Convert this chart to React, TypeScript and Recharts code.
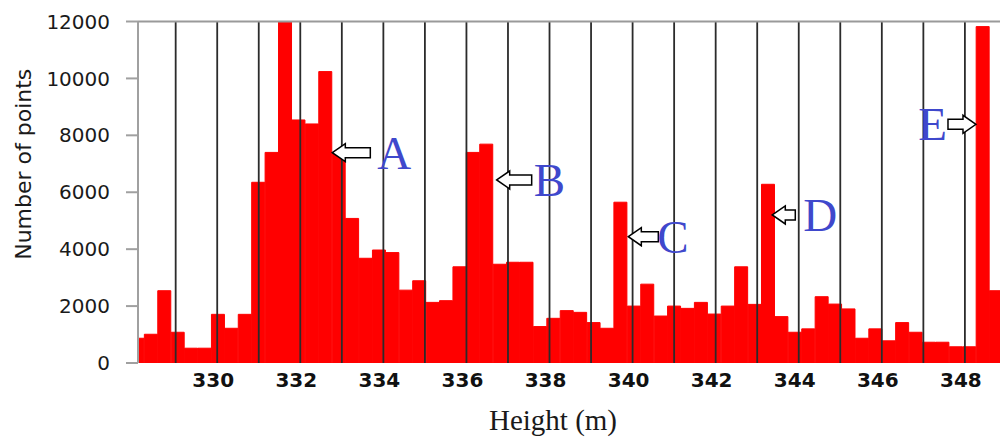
import React from 'react';
import { ComposedChart, Bar, XAxis, YAxis, ReferenceLine, ReferenceDot, Label } from 'recharts';

// Histogram bin centres (height, m)
const binCenters = [
  328.084, 328.407, 328.730, 329.053, 329.376, 329.699, 330.022, 330.345, 330.668, 330.991,
  331.314, 331.637, 331.960, 332.283, 332.606, 332.929, 333.252, 333.575, 333.898, 334.221,
  334.544, 334.867, 335.190, 335.513, 335.836, 336.158, 336.481, 336.804, 337.127, 337.450,
  337.773, 338.096, 338.419, 338.742, 339.065, 339.388, 339.711, 340.034, 340.357, 340.680,
  341.003, 341.326, 341.649, 341.972, 342.295, 342.618, 342.941, 343.264, 343.587, 343.910,
  344.233, 344.556, 344.879, 345.202, 345.525, 345.848, 346.171, 346.494, 346.817, 347.140,
  347.463, 347.786, 348.109, 348.432, 348.755,
];

// Number of points per bin
const pointCounts = [
  870, 1010, 2540, 1080, 520, 520, 1710, 1220, 1710, 6350,
  7400, 12000, 8540, 8400, 10240, 7400, 5080, 3680, 3970, 3880,
  2560, 2890, 2130, 2190, 3380, 7400, 7690, 3470, 3540, 3540,
  1280, 1570, 1840, 1780, 1420, 1220, 5650, 2000, 2770, 1650,
  2000, 1920, 2130, 1720, 2000, 3380, 2060, 6280, 1630, 1080,
  1200, 2330, 2070, 1900, 870, 1200, 780, 1420, 1080, 730,
  730, 570, 570, 11820, 2540,
];

const xTickValues = [330, 332, 334, 336, 338, 340, 342, 344, 346, 348];
const yTickValues = [0, 2000, 4000, 6000, 8000, 10000, 12000];
const gridHeights = [329, 330, 331, 332, 333, 334, 335, 336, 337, 338, 339, 340, 341, 342, 343, 344, 345, 346, 347, 348];

// Annotation arrows: the point each arrow tip touches
const annotationLabels = ['A', 'B', 'C', 'D', 'E'];
const annotationHeights = [332.771, 336.728, 339.897, 343.363, 348.267];
const annotationCounts = [7390, 6431, 4438, 5201, 8388];
const annotationDirections = ['left', 'left', 'left', 'left', 'right'];

// styling of the annotations (pixels)
const arrowLength: Record<string, number> = { A: 38, B: 35, C: 30, D: 23, E: 28 };
const letterOffset: Record<string, number> = { A: 45, B: 37, C: 29, D: 31, E: 29 };

const data = binCenters.map((h, i) => ({ height: h, count: pointCounts[i] }));

const ArrowMark = ({ cx, cy, label, dir }: { cx: number; cy: number; label: string; dir: string }) => {
  if (typeof cx !== 'number' || typeof cy !== 'number') return null;
  const sign = dir === 'left' ? 1 : -1;
  const L = arrowLength[label];
  const head = 13;
  const pts = [
    [0, 0], [head, -9], [head, -5], [L, -5], [L, 5], [head, 5], [head, 9],
  ].map(([dx, dy]) => `${cx + sign * dx},${cy + dy}`).join(' ');
  return (
    <g>
      <polygon points={pts} fill="#ffffff" stroke="#000000" strokeWidth={1.5} />
      <text
        x={cx + sign * letterOffset[label]}
        y={cy + 16}
        textAnchor={dir === 'left' ? 'start' : 'end'}
        fontFamily="'Liberation Serif', 'Times New Roman', serif"
        fontSize={47}
        fill="#3f48cc"
      >
        {label}
      </text>
    </g>
  );
};

const YTitle = (props: any) => {
  const vb = props.viewBox || { x: 0, y: 21.5, width: 138, height: 341.5 };
  const x = vb.x + 23;
  const y = vb.y + vb.height / 2 - 28;
  return (
    <text
      x={x}
      y={y}
      transform={`rotate(-90, ${x}, ${y})`}
      textAnchor="middle"
      dominantBaseline="central"
      fontFamily="'DejaVu Sans', sans-serif"
      fontSize={22}
      fill="#1a1a1a"
    >
      Number of points
    </text>
  );
};

const XTitle = (props: any) => {
  const vb = props.viewBox || { x: 138, y: 363, width: 862, height: 76 };
  return (
    <text
      x={vb.x + vb.width / 2 - 16}
      y={vb.y + 67}
      textAnchor="middle"
      fontFamily="'Liberation Serif', 'Times New Roman', serif"
      fontSize={29}
      fill="#1a1a1a"
    >
      Height (m)
    </text>
  );
};

export default function App() {
  return (
    <div style={{ position: 'absolute', left: 0, top: 0, background: '#ffffff' }}>
      <ComposedChart
        width={1000}
        height={439}
        data={data}
        margin={{ top: 21.5, right: 0, bottom: 0, left: 0 }}
        barCategoryGap={0}
        barGap={0}
      >
        <XAxis
          type="number"
          dataKey="height"
          domain={[328.093, 348.845]}
          allowDataOverflow
          ticks={xTickValues}
          interval={0}
          axisLine={false}
          tickLine={false}
          tickSize={0}
          tickMargin={10}
          height={76}
          tick={{ fontFamily: "'DejaVu Sans', sans-serif", fontWeight: 'bold', fontSize: 20, fill: '#111111', dx: -4 }}
        >
          <Label content={<XTitle />} />
        </XAxis>
        <YAxis
          type="number"
          domain={[0, 12000]}
          allowDataOverflow
          ticks={yTickValues}
          interval={0}
          width={138}
          axisLine={{ stroke: '#a0a0a0', strokeWidth: 2 }}
          tickLine={{ stroke: '#a0a0a0', strokeWidth: 2 }}
          tickSize={12}
          tickMargin={16}
          tick={{ fontFamily: "'DejaVu Sans', sans-serif", fontSize: 20, fill: '#1a1a1a' }}
        >
          <Label content={<YTitle />} />
        </YAxis>
        <Bar dataKey="count" fill="#ff0000" stroke="#ff0000" strokeWidth={1} isAnimationActive={false} />
        {gridHeights.map((h) => (
          <ReferenceLine key={h} x={h} stroke="#2b2b2b" strokeWidth={1.8} />
        ))}
        <ReferenceLine y={12000} stroke="#9a9a9a" strokeWidth={2} />
        {annotationLabels.map((lab, i) => (
          <ReferenceDot
            key={lab}
            x={annotationHeights[i]}
            y={annotationCounts[i]}
            r={1}
            shape={(p: any) => <ArrowMark cx={p.cx} cy={p.cy} label={lab} dir={annotationDirections[i]} />}
          />
        ))}
      </ComposedChart>
    </div>
  );
}
